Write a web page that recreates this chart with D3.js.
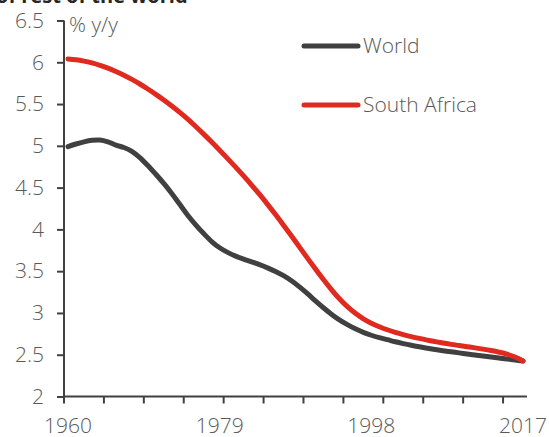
<!DOCTYPE html>
<html>
<head>
<meta charset="utf-8">
<script src="https://cdn.jsdelivr.net/npm/d3@7"></script>
<style>
  html, body { margin: 0; padding: 0; background: #fff; }
  svg { display: block; font-family: "Open Sans", Lato, sans-serif; }
</style>
</head>
<body>
<svg id="chart" width="549" height="437"></svg>
<script>
// Population growth, % y/y, 1960-2017
const years = d3.range(1960, 2018);

const world = [
  4.990, 5.022, 5.048, 5.066, 5.070, 5.048, 5.008, 4.980, 4.935, 4.860,
  4.765, 4.660, 4.550, 4.430, 4.300, 4.170, 4.055, 3.950, 3.855, 3.780,
  3.725, 3.680, 3.645, 3.612, 3.578, 3.540, 3.497, 3.446, 3.385, 3.312,
  3.230, 3.145, 3.062, 2.985, 2.917, 2.860, 2.810, 2.768, 2.733, 2.704,
  2.680, 2.655, 2.633, 2.613, 2.595, 2.578, 2.562, 2.548, 2.535, 2.522,
  2.509, 2.497, 2.485, 2.473, 2.461, 2.449, 2.437, 2.425
];

const southAfrica = [
  6.040, 6.030, 6.014, 5.992, 5.964, 5.930, 5.890, 5.845, 5.795, 5.740,
  5.680, 5.616, 5.548, 5.476, 5.400, 5.320, 5.232, 5.140, 5.045, 4.947,
  4.847, 4.745, 4.640, 4.531, 4.418, 4.300, 4.177, 4.050, 3.920, 3.788,
  3.656, 3.526, 3.400, 3.280, 3.170, 3.075, 2.995, 2.930, 2.878, 2.835,
  2.799, 2.768, 2.741, 2.717, 2.695, 2.675, 2.657, 2.640, 2.624, 2.610,
  2.596, 2.582, 2.567, 2.550, 2.530, 2.506, 2.473, 2.425
];

const seriesNames = ["World", "South Africa"];
const seriesColors = ["#404040", "#e0291f"];
const xLabels = [1960, 1979, 1998, 2017];
const yTicks = [2, 2.5, 3, 3.5, 4, 4.5, 5, 5.5, 6, 6.5];

const svg = d3.select("#chart");
const axisColor = "#404040";
const textColor = "#595959";
const fontSize = 21;

const x = d3.scaleBand().domain(years).range([64, 527]).padding(0);
const cx = yr => x(yr) + x.bandwidth() / 2;
const y = d3.scaleLinear().domain([2, 6.5]).range([396.5, 20.5]);

// Heading (runs off the top edge)
svg.append("text")
  .attr("x", -4).attr("y", 3)
  .attr("font-size", 20).attr("font-weight", 700)
  .attr("fill", "#262626")
  .text("of rest of the world");

// Y axis
const yAxis = svg.append("g")
  .attr("transform", "translate(64,0)")
  .call(d3.axisLeft(y).tickValues(yTicks).tickSize(7).tickPadding(13)
    .tickFormat(d => d % 1 ? d.toFixed(1) : String(d)));
yAxis.select(".domain").attr("stroke", axisColor).attr("stroke-width", 2)
  .attr("d", `M0,${y(6.5)}V${y(2)}`);
yAxis.selectAll(".tick line").attr("stroke", axisColor).attr("stroke-width", 2);
yAxis.selectAll(".tick text")
  .attr("fill", textColor).attr("font-size", fontSize).attr("font-weight", 300)
  .attr("font-family", "'Open Sans', Lato, sans-serif");

// X axis: ticks every five categories, labels on selected years
const xAxis = svg.append("g").attr("transform", `translate(0,${y(2)})`);
xAxis.append("line")
  .attr("x1", 64).attr("x2", 527).attr("y1", 0).attr("y2", 0)
  .attr("stroke", axisColor).attr("stroke-width", 2);
xAxis.selectAll("line.tk")
  .data(years.filter((d, i) => i % 5 === 0))
  .join("line").attr("class", "tk")
  .attr("x1", d => x(d)).attr("x2", d => x(d))
  .attr("y1", 0).attr("y2", 7)
  .attr("stroke", axisColor).attr("stroke-width", 2);
xAxis.selectAll("text")
  .data(xLabels)
  .join("text")
  .attr("x", d => cx(d)).attr("y", 36)
  .attr("text-anchor", "middle")
  .attr("fill", textColor).attr("font-size", fontSize).attr("font-weight", 300)
  .text(d => d);

// Unit label
svg.append("text")
  .attr("x", 69).attr("y", 32)
  .attr("fill", textColor).attr("font-size", 21).attr("font-weight", 300)
  .text("% y/y");

// Lines
const line = d3.line()
  .x((d, i) => cx(years[i]))
  .y(d => y(d))
  .curve(d3.curveCatmullRom.alpha(0.5));

[world, southAfrica].forEach((vals, k) => {
  svg.append("path")
    .datum(vals)
    .attr("d", line)
    .attr("fill", "none")
    .attr("stroke", seriesColors[k])
    .attr("stroke-width", 5)
    .attr("stroke-linecap", "round")
    .attr("stroke-linejoin", "round");
});

// Legend
const legendY = [46, 105];
seriesNames.forEach((name, k) => {
  svg.append("line")
    .attr("x1", 304).attr("x2", 358)
    .attr("y1", legendY[k]).attr("y2", legendY[k])
    .attr("stroke", seriesColors[k]).attr("stroke-width", 5)
    .attr("stroke-linecap", "round");
  svg.append("text")
    .attr("x", 363).attr("y", legendY[k] + 7)
    .attr("fill", textColor).attr("font-size", fontSize).attr("font-weight", 300)
    .text(name);
});
</script>
</body>
</html>
